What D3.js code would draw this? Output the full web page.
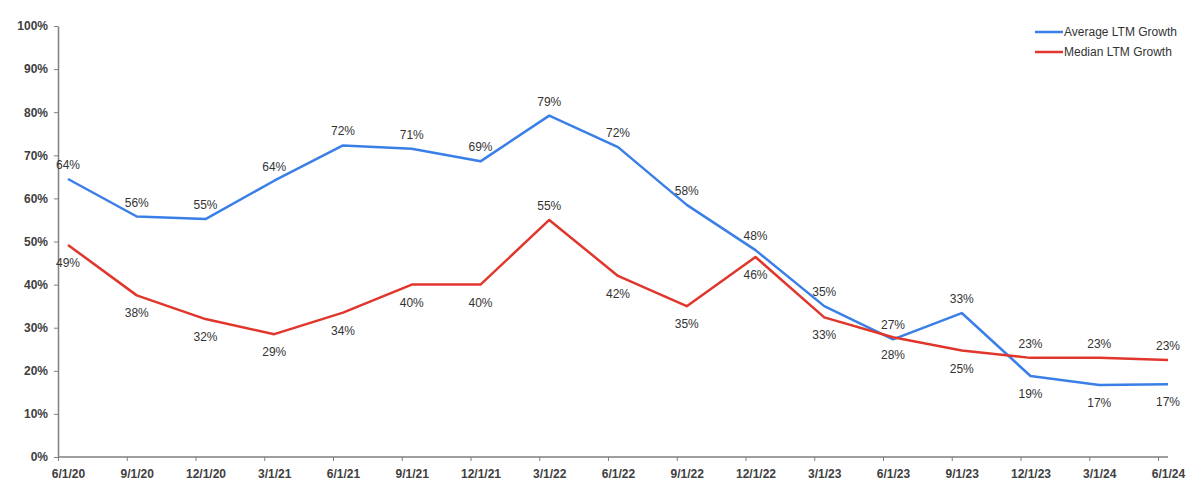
<!DOCTYPE html>
<html><head><meta charset="utf-8">
<script src="https://cdn.jsdelivr.net/npm/d3@7"></script>
<style>body{margin:0;background:#fff;font-family:"Liberation Sans",Arial,sans-serif;}</style>
</head><body><svg id="chart" width="1200" height="491"></svg>
<script>
var dates = ["6/1/20","9/1/20","12/1/20","3/1/21","6/1/21","9/1/21","12/1/21","3/1/22","6/1/22","9/1/22","12/1/22","3/1/23","6/1/23","9/1/23","12/1/23","3/1/24","6/1/24"];
var average = [64.5,55.8,55.2,64.1,72.3,71.5,68.6,79.2,71.9,58.5,48.0,35.0,27.3,33.4,18.8,16.7,16.9];
var median = [49.2,37.5,32.0,28.5,33.5,40.0,40.0,55.0,42.0,35.0,46.4,32.4,27.8,24.7,23.0,23.0,22.5];
var avgLabels = ["64%","56%","55%","64%","72%","71%","69%","79%","72%","58%","48%","35%","27%","33%","19%","17%","17%"];
var medLabels = ["49%","38%","32%","29%","34%","40%","40%","55%","42%","35%","46%","33%","28%","25%","23%","23%","23%"];
// label above (true) or below (false) the point
var avgAbove = [1,1,1,1,1,1,1,1,1,1,1,1,1,1,0,0,0];
var medAbove = [0,0,0,0,0,0,0,1,0,0,0,0,0,0,1,1,1];
var yTicks = [0,10,20,30,40,50,60,70,80,90,100];

var svg = d3.select("#chart");
var x = d3.scalePoint().domain(dates).range([68, 1168]);
var y = d3.scaleLinear().domain([0, 100]).range([457, 26]);

// y axis
var yAx = svg.append("g").attr("transform", "translate(58,0)")
    .call(d3.axisLeft(y).tickValues(yTicks).tickFormat(function(d){ return d + "%"; }).tickSize(4).tickSizeOuter(0));
yAx.select(".domain").attr("stroke", "#7f7f7f").attr("stroke-width", 1.5);
yAx.selectAll(".tick line").attr("stroke", "#7f7f7f");
yAx.selectAll("text").attr("font-family", "Liberation Sans, Arial").attr("font-size", 12).attr("font-weight", "bold").attr("fill", "#404040").attr("dx", -3);

// x axis
var xAx = svg.append("g").attr("transform", "translate(0,457)")
    .call(d3.axisBottom(x).tickSize(4).tickSizeOuter(0).tickPadding(8));
xAx.select(".domain").attr("d", "M58,0H1168").attr("stroke", "#7f7f7f").attr("stroke-width", 1.5);
xAx.selectAll(".tick line").attr("stroke", "#7f7f7f").attr("transform", "translate(-10,0)");
xAx.selectAll("text").attr("font-family", "Liberation Sans, Arial").attr("font-size", 12).attr("font-weight", "bold").attr("fill", "#404040");

var line = d3.line().x(function(d, i){ return x(dates[i]); }).y(function(d){ return y(d); });

function drawSeries(vals, labels, above, color) {
    svg.append("path").datum(vals).attr("d", line)
        .attr("fill", "none").attr("stroke", color).attr("stroke-width", 2.5).attr("stroke-linejoin", "round");
    svg.append("g").selectAll("text").data(vals).enter().append("text")
        .attr("x", function(d, i){ return x(dates[i]); })
        .attr("y", function(d, i){ return above[i] ? y(d) - 10 : y(d) + 22; })
        .attr("text-anchor", "middle").attr("font-size", 12).attr("fill", "#333")
        .text(function(d, i){ return labels[i]; });
}
drawSeries(average, avgLabels, avgAbove, "#3a7fe8");
drawSeries(median, medLabels, medAbove, "#e0362c");

// legend
var legend = [["Average LTM Growth", "#3a7fe8"], ["Median LTM Growth", "#e0362c"]];
legend.forEach(function(l, i){
    var ly = 32 + i * 20;
    svg.append("line").attr("x1", 1035).attr("x2", 1063).attr("y1", ly).attr("y2", ly).attr("stroke", l[1]).attr("stroke-width", 2.5);
    svg.append("text").attr("x", 1064).attr("y", ly + 4).attr("font-size", 12).attr("fill", "#333").text(l[0]);
});
</script></body></html>
